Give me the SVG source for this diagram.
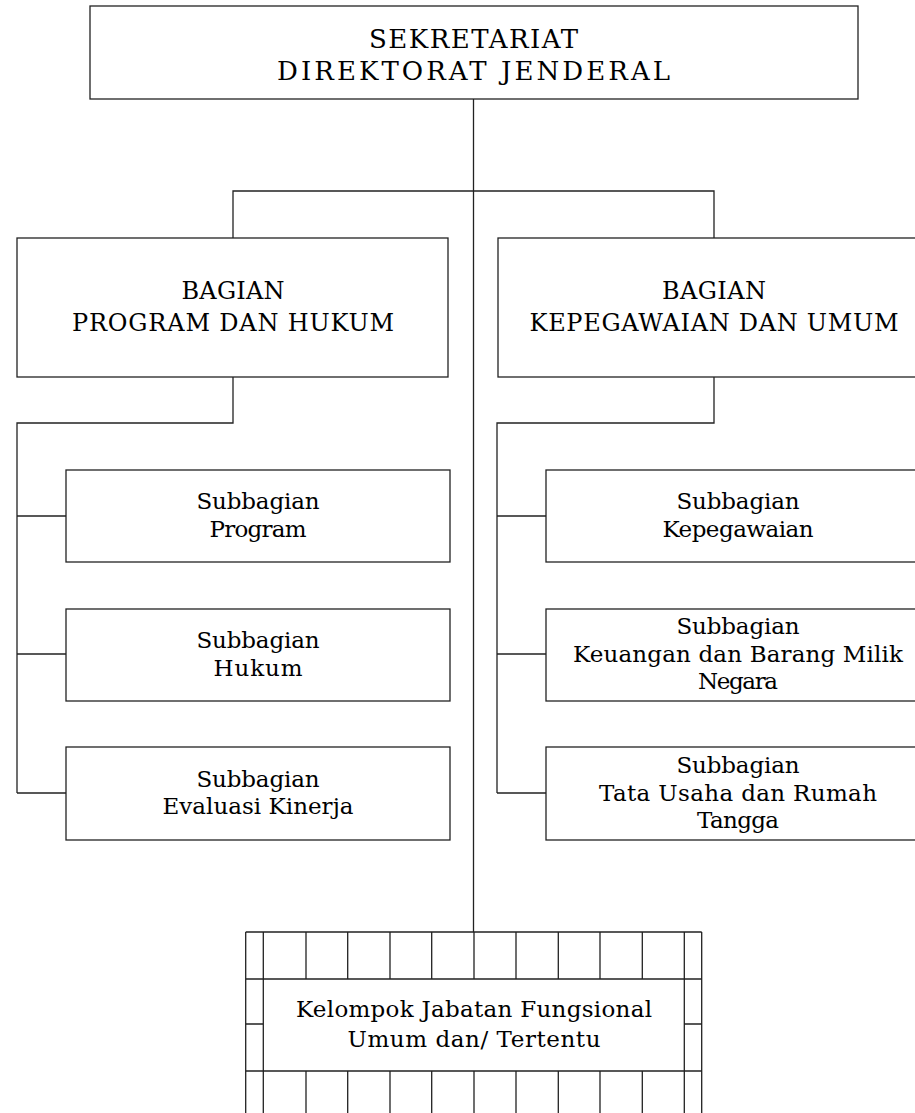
<svg xmlns="http://www.w3.org/2000/svg" width="915" height="1113" viewBox="0 0 915 1113">
  <style>
    .box { fill: #fff; stroke: #222; stroke-width: 1.3; }
    .ln { fill: none; stroke: #222; stroke-width: 1.3; }
    .t { font-family: "DejaVu Serif", "Liberation Serif", serif; fill: #000; text-anchor: middle; }
    .head { font-size: 26px; }
    .cap { font-size: 24px; }
    .sub { font-size: 23px; }
  </style>
  <rect width="915" height="1113" fill="#fff"/>

  <!-- connectors -->
  <g id="connectors">
    <path class="ln" d="M473.5 99 V932"/>
    <path class="ln" d="M233 238 V191 H714 V238"/>
    <path class="ln" d="M233 377 V423 H17 V793"/>
    <path class="ln" d="M17 516 H66 M17 654 H66 M17 793 H66"/>
    <path class="ln" d="M714 377 V423 H497 V793"/>
    <path class="ln" d="M497 516 H546 M497 654 H546 M497 793 H546"/>
  </g>

  <!-- head -->
  <g id="sekretariat">
    <rect class="box" x="90" y="6" width="768" height="93"/>
    <text class="t head" x="473.5" y="48" textLength="209" lengthAdjust="spacing">SEKRETARIAT</text>
    <text class="t head" x="473.5" y="80" textLength="393" lengthAdjust="spacing">DIREKTORAT JENDERAL</text>
  </g>

  <!-- divisions -->
  <g id="bagian-program-hukum">
    <rect class="box" x="17" y="238" width="431" height="139"/>
    <text class="t cap" x="233" y="299" textLength="103" lengthAdjust="spacing">BAGIAN</text>
    <text class="t cap" x="233" y="331" textLength="322" lengthAdjust="spacing">PROGRAM DAN HUKUM</text>
  </g>
  <g id="bagian-kepegawaian-umum">
    <rect class="box" x="498" y="238" width="432" height="139"/>
    <text class="t cap" x="714" y="299" textLength="104" lengthAdjust="spacing">BAGIAN</text>
    <text class="t cap" x="714" y="331" textLength="369" lengthAdjust="spacing">KEPEGAWAIAN DAN UMUM</text>
  </g>

  <!-- left subdivisions -->
  <g id="subbagian-program">
    <rect class="box" x="66" y="470" width="384" height="92"/>
    <text class="t sub" x="258" y="509" textLength="123" lengthAdjust="spacing">Subbagian</text>
    <text class="t sub" x="258" y="537" textLength="97" lengthAdjust="spacing">Program</text>
  </g>
  <g id="subbagian-hukum">
    <rect class="box" x="66" y="609" width="384" height="92"/>
    <text class="t sub" x="258" y="648" textLength="123" lengthAdjust="spacing">Subbagian</text>
    <text class="t sub" x="258" y="676" textLength="89" lengthAdjust="spacing">Hukum</text>
  </g>
  <g id="subbagian-evaluasi-kinerja">
    <rect class="box" x="66" y="747" width="384" height="93"/>
    <text class="t sub" x="258" y="787" textLength="123" lengthAdjust="spacing">Subbagian</text>
    <text class="t sub" x="258" y="814" textLength="191" lengthAdjust="spacing">Evaluasi Kinerja</text>
  </g>

  <!-- right subdivisions -->
  <g id="subbagian-kepegawaian">
    <rect class="box" x="546" y="470" width="384" height="92"/>
    <text class="t sub" x="738" y="509" textLength="123" lengthAdjust="spacing">Subbagian</text>
    <text class="t sub" x="738" y="537" textLength="151" lengthAdjust="spacing">Kepegawaian</text>
  </g>
  <g id="subbagian-keuangan-bmn">
    <rect class="box" x="546" y="609" width="384" height="92"/>
    <text class="t sub" x="738" y="634" textLength="123" lengthAdjust="spacing">Subbagian</text>
    <text class="t sub" x="738" y="662" textLength="330" lengthAdjust="spacing">Keuangan dan Barang Milik</text>
    <text class="t sub" x="738" y="689" textLength="80" lengthAdjust="spacing">Negara</text>
  </g>
  <g id="subbagian-tata-usaha">
    <rect class="box" x="546" y="747" width="384" height="93"/>
    <text class="t sub" x="738" y="773" textLength="123" lengthAdjust="spacing">Subbagian</text>
    <text class="t sub" x="738" y="801" textLength="278" lengthAdjust="spacing">Tata Usaha dan Rumah</text>
    <text class="t sub" x="738" y="828" textLength="82" lengthAdjust="spacing">Tangga</text>
  </g>

  <!-- functional group, framed by a ruled border -->
  <g id="kelompok-jabatan-fungsional">
    <path class="ln" d="M245.7 932 H701.7 M245.7 979 H701.7 M245.7 1071 H701.7 M245.7 932 V1113 M701.7 932 V1113 M263.3 932 V1113 M684.3 932 V1113 M245.7 1024 H263.3 M684.3 1024 H701.7"/>
    <path class="ln" d="M306 932 V979 M347.7 932 V979 M390 932 V979 M431.7 932 V979 M474 932 V979 M516 932 V979 M558.3 932 V979 M600 932 V979 M642.3 932 V979"/>
    <path class="ln" d="M306 1071 V1113 M347.7 1071 V1113 M390 1071 V1113 M431.7 1071 V1113 M474 1071 V1113 M516 1071 V1113 M558.3 1071 V1113 M600 1071 V1113 M642.3 1071 V1113"/>
    <text class="t sub" x="474" y="1017" textLength="356" lengthAdjust="spacing">Kelompok Jabatan Fungsional</text>
    <text class="t sub" x="474" y="1047" textLength="253" lengthAdjust="spacing">Umum dan/ Tertentu</text>
  </g>
</svg>
